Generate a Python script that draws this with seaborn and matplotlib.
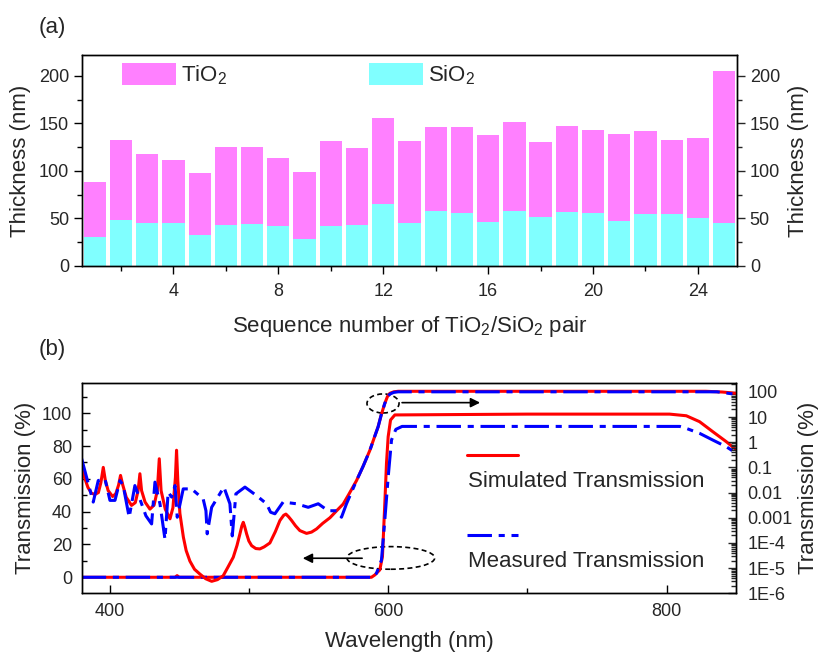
import numpy as np
import pandas as pd
import matplotlib
matplotlib.use("Agg")
import matplotlib.pyplot as plt
import seaborn as sns
from matplotlib.patches import Ellipse, Patch
from matplotlib.lines import Line2D
from matplotlib.ticker import MultipleLocator, FixedLocator, FixedFormatter, LogLocator, NullFormatter

# ---------------- data: panel (a) ----------------
pair_seq = list(range(1, 26))
tio2_nm = [58, 85, 73, 66, 65, 82, 81, 72, 71, 90, 81, 91, 86, 88, 90, 92, 93, 78, 90, 87, 92, 87, 78, 84, 160]
sio2_nm = [30, 48, 45, 45, 33, 43, 44, 42, 28, 42, 43, 65, 45, 58, 56, 46, 58, 52, 57, 56, 47, 55, 55, 51, 45]
thick_ticks = [0, 50, 100, 150, 200]
seq_ticks = [4, 8, 12, 16, 20, 24]

# ---------------- data: panel (b) ----------------
# log-axis curves (right axis, %)
sim_log_wl = [380.0, 382.0, 384.5, 387.0, 389.5, 392.0, 393.8, 395.5, 397.0, 399.0, 402.2, 404.5, 406.5,
              407.9, 409.5, 412.0, 415.8, 418.5, 420.5, 421.8, 423.0, 425.5, 429.0, 432.0, 434.3, 435.7,
              437.0, 440.0, 443.4, 445.5, 447.3, 448.1, 449.0, 450.5, 453.0, 455.0, 457.7, 461.0, 464.9,
              469.0, 473.3, 477.5, 481.6, 485.0, 488.8, 491.5, 493.6, 495.0, 496.0, 497.0, 498.4, 500.0,
              502.0, 505.0, 507.9, 511.0, 515.1, 519.0, 522.3, 525.0, 526.6, 528.5, 530.7, 533.5, 536.6,
              541.4, 545.0, 548.6, 553.0, 558.2, 563.0, 567.7, 572.0, 577.3, 582.0, 586.9, 590.0, 592.8,
              595.0, 597.6, 599.5, 601.2, 604.0, 607.2, 700.0, 828.0, 840.0, 850.0]
sim_log_pct = [0.089, 0.040, 0.016, 0.0095, 0.0084, 0.010, 0.025, 0.10, 0.030, 0.012, 0.0070, 0.009, 0.020,
               0.048, 0.020, 0.0065, 0.0031, 0.0040, 0.012, 0.056, 0.012, 0.0042, 0.0022, 0.0032, 0.012, 0.22,
               0.012, 0.0022, 0.00091, 0.0025, 0.04, 0.48, 0.03, 0.0015, 0.00017, 5.0e-5, 1.9e-5, 9.0e-6, 5.8e-6,
               3.8e-6, 3.0e-6, 3.5e-6, 5.0e-6, 1.1e-5, 2.7e-5, 8.0e-5, 2.3e-4, 4.8e-4, 6.6e-4, 4.5e-4, 2.3e-4, 1.2e-4,
               7.8e-5, 6.0e-5, 5.8e-5, 7.0e-5, 1.0e-4, 2.8e-4, 7.8e-4, 1.25e-3, 1.4e-3, 1.1e-3, 7.8e-4, 4.8e-4, 3.1e-4,
               2.4e-4, 2.7e-4, 3.6e-4, 6.0e-4, 1.0e-3, 1.9e-3, 3.5e-3, 9.0e-3, 0.030, 0.11, 0.48, 1.5, 4.1,
               12, 35, 65, 87, 100, 105, 105, 105, 98, 87]
meas_log_wl = [380.0, 384.8, 388.3, 391.9, 396.7, 400.3, 403.9, 407.5, 409.8, 414.1, 418.2, 423.0, 426.1,
               430.2, 432.6, 436.2, 439.8, 442.1, 444.6, 447.0, 448.6, 452.9, 458.9, 467.2, 469.2, 470.1,
               473.3, 482.1, 486.4, 488.1, 490.7, 497.2, 505.5, 512.7, 515.6, 518.7, 524.6, 534.2, 542.6,
               549.8, 556.9, 562.9, 566.5, 570.1, 577.3, 582.0, 586.9, 590.0, 592.8, 595.0, 597.6, 599.5,
               601.2, 604.0, 607.2, 700.0, 836.0, 850.0]
meas_log_pct = [0.22, 0.022, 0.0042, 0.030, 0.035, 0.0049, 0.0049, 0.030, 0.019, 0.00105, 0.019, 0.0036, 0.0012,
                0.00057, 0.026, 0.0036, 0.00014, 0.0104, 0.0066, 0.019, 0.00105, 0.014, 0.014, 0.0056, 0.0019, 0.00023,
                0.0026, 0.0165, 0.0036, 0.00019, 0.0089, 0.0165, 0.0076, 0.0036, 0.00166, 0.00144, 0.0042, 0.0036, 0.0026,
                0.0036, 0.0019, 0.0019, 0.00105, 0.0036, 0.030, 0.11, 0.48, 1.5, 4.1, 12, 35, 62,
                81, 95, 100, 100, 100, 79]
# linear-axis curves (left axis, %)
sim_lin_wl = [380.0, 447.0, 448.5, 450.0, 588.0, 590.4, 594.0, 595.9, 597.6, 598.8, 600.0, 601.7, 604.8, 700.0,
              802.0, 814.0, 823.5, 833.0, 842.7, 850.0]
sim_lin_pct = [0.0, 0.0, 1.0, 0.0, 0.0, 1.4, 4.5, 12.6, 45, 69.5, 85.7, 95.9, 99, 99.5,
               99.5, 98.5, 94.9, 88.8, 82.7, 77.6]
meas_lin_wl = [380.0, 589.0, 591.6, 595.2, 597.6, 600.0, 602.4, 605.5, 610.0, 700.0, 809.3, 814.0, 823.5, 833.0,
               842.7, 850.0]
meas_lin_pct = [0.0, 0.0, 2.4, 10.5, 35, 61, 83.7, 90.2, 92.0, 92.0, 92.0, 90.8, 87.8, 83.7, 79.6, 75.6]
lin_ticks = [0, 20, 40, 60, 80, 100]
log_ticks = [1e-6, 1e-5, 1e-4, 1e-3, 1e-2, 1e-1, 1, 10, 100]
log_tick_labels = ["1E-6", "1E-5", "1E-4", "0.001", "0.01", "0.1", "1", "10", "100"]

# ---------------- style ----------------
sns.set_theme(style="ticks")
plt.rcParams["font.family"] = ["Liberation Sans", "DejaVu Sans"]
plt.rcParams["mathtext.fontset"] = "custom"
plt.rcParams["mathtext.rm"] = "Liberation Sans"
plt.rcParams["mathtext.it"] = "Liberation Sans:italic"
plt.rcParams["axes.linewidth"] = 1.0
plt.rcParams["axes.edgecolor"] = "black"

MAG = "#ff80ff"
CYA = "#80ffff"
LAB = 16
TCK = 13
DASH = [8, 2.2, 2, 2.2]

fig = plt.figure(figsize=(8.2, 6.6), dpi=100)

# ================= panel (a) =================
ax1 = fig.add_axes([0.0996, 0.597, 0.7995, 0.3197])
total_nm = [t + s for t, s in zip(tio2_nm, sio2_nm)]
df_a = pd.DataFrame({"seq": pair_seq, "total": total_nm, "sio2": sio2_nm})
sns.barplot(data=df_a, x="seq", y="total", native_scale=True, color=MAG, saturation=1,
            width=0.85, linewidth=0, errorbar=None, ax=ax1)
sns.barplot(data=df_a, x="seq", y="sio2", native_scale=True, color=CYA, saturation=1,
            width=0.85, linewidth=0, errorbar=None, ax=ax1)
ax1.set_xlim(0.5, 25.5)
ax1.set_ylim(0, 222)
ax1.set_xticks(seq_ticks)
ax1.xaxis.set_minor_locator(MultipleLocator(2))
ax1.set_yticks(thick_ticks)
ax1.yaxis.set_minor_locator(MultipleLocator(25))
ax1.tick_params(which="both", direction="out", labelsize=TCK, color="black")
ax1.tick_params(axis="x", pad=6)
ax1.tick_params(axis="y", pad=3)
ax1.tick_params(which="major", length=6, width=1)
ax1.tick_params(which="minor", length=3.5, width=1)
ax1.set_xlabel("Sequence number of TiO$_\\mathrm{2}$/SiO$_\\mathrm{2}$ pair", fontsize=LAB, labelpad=10)
ax1.set_ylabel("Thickness (nm)", fontsize=LAB, labelpad=6)
ax1r = ax1.twinx()
ax1r.set_ylim(ax1.get_ylim())
ax1r.set_yticks(thick_ticks)
ax1r.yaxis.set_minor_locator(MultipleLocator(25))
ax1r.tick_params(which="both", direction="out", labelsize=TCK, pad=3)
ax1r.tick_params(which="major", length=6, width=1)
ax1r.tick_params(which="minor", length=3.5, width=1)
ax1r.set_ylabel("Thickness (nm)", fontsize=LAB, labelpad=6)
for a in (ax1, ax1r):
    for sp in a.spines.values():
        sp.set_visible(True)
        sp.set_color("black")
handles = [Patch(facecolor=MAG, edgecolor="none", label="TiO$_\\mathrm{2}$"),
           Patch(facecolor=CYA, edgecolor="none", label="SiO$_\\mathrm{2}$")]
ax1.legend(handles=handles, loc="upper left", bbox_to_anchor=(0.062, 0.962), ncol=2, frameon=False,
           fontsize=LAB, handlelength=2.4, handleheight=1.15, handletextpad=0.25, columnspacing=6.4,
           borderpad=0, borderaxespad=0)
fig.text(0.047, 0.958, "(a)", fontsize=LAB, ha="left", va="center")

# ================= panel (b) =================
ax2 = fig.add_axes([0.0996, 0.101, 0.7985, 0.319])
sns.lineplot(x=sim_lin_wl, y=sim_lin_pct, ax=ax2, color="red", lw=2.2, estimator=None, sort=False)
sns.lineplot(x=meas_lin_wl, y=meas_lin_pct, ax=ax2, color="blue", lw=2.2, estimator=None, sort=False)
ax2.lines[-1].set_dashes(DASH)
ax2.set_xlim(380, 850)
ax2.set_ylim(-9.8, 118.6)
ax2.xaxis.set_major_locator(MultipleLocator(200))
ax2.xaxis.set_minor_locator(MultipleLocator(100))
ax2.set_yticks(lin_ticks)
ax2.yaxis.set_minor_locator(MultipleLocator(10))
ax2.tick_params(which="both", direction="in", labelsize=TCK, pad=7, color="black")
ax2.tick_params(which="major", length=6, width=1)
ax2.tick_params(which="minor", length=3.5, width=1)
ax2.set_xlabel("Wavelength (nm)", fontsize=LAB, labelpad=8)
ax2.set_ylabel("Transmission (%)", fontsize=LAB, labelpad=4)

ax3 = ax2.twinx()
ax3.set_yscale("log")
sns.lineplot(x=sim_log_wl, y=sim_log_pct, ax=ax3, color="red", lw=2.2, estimator=None, sort=False)
sns.lineplot(x=meas_log_wl, y=meas_log_pct, ax=ax3, color="blue", lw=2.2, estimator=None, sort=False)
ax3.lines[-1].set_dashes(DASH)
ax3.set_ylim(1e-6, 228)
ax3.set_xlim(380, 850)
ax3.yaxis.set_major_locator(FixedLocator(log_ticks))
ax3.yaxis.set_major_formatter(FixedFormatter(log_tick_labels))
ax3.yaxis.set_minor_locator(LogLocator(base=10, subs=np.arange(2, 10), numticks=20))
ax3.yaxis.set_minor_formatter(NullFormatter())
ax3.tick_params(which="both", direction="in", labelsize=TCK, pad=8)
ax3.tick_params(which="major", length=6, width=1)
ax3.tick_params(which="minor", length=3.5, width=1)
ax3.set_ylabel("Transmission (%)", fontsize=LAB, labelpad=4)
for a in (ax2, ax3):
    for sp in a.spines.values():
        sp.set_visible(True)
        sp.set_color("black")

# annotation ellipses and arrows
ax2.add_patch(Ellipse((596.3, 106.0), 23, 11.6, fill=False, ls=(0, (3, 2)), lw=1.2, ec="black"))
ax2.annotate("", xy=(668, 106.5), xytext=(608, 106.5),
             arrowprops=dict(arrowstyle="-|>", color="black", lw=1.2, mutation_scale=14))
ax2.add_patch(Ellipse((601.9, 11.8), 63, 13.8, fill=False, ls=(0, (3, 2)), lw=1.2, ec="black"))
ax2.annotate("", xy=(536.7, 11.6), xytext=(583.3, 11.6),
             arrowprops=dict(arrowstyle="-|>", color="black", lw=1.2, mutation_scale=14))

# legend (line sample above text)
ax2.add_line(Line2D([0.588, 0.667], [0.657, 0.657], transform=ax2.transAxes, color="red", lw=2.2))
ax2.text(0.59, 0.53, "Simulated Transmission", transform=ax2.transAxes, fontsize=LAB, ha="left", va="center")
bl = Line2D([0.588, 0.667], [0.277, 0.277], transform=ax2.transAxes, color="blue", lw=2.2)
bl.set_dashes(DASH)
ax2.add_line(bl)
ax2.text(0.59, 0.15, "Measured Transmission", transform=ax2.transAxes, fontsize=LAB, ha="left", va="center")
fig.text(0.047, 0.47, "(b)", fontsize=LAB, ha="left", va="center")

fig.savefig("out.png", dpi=100)
